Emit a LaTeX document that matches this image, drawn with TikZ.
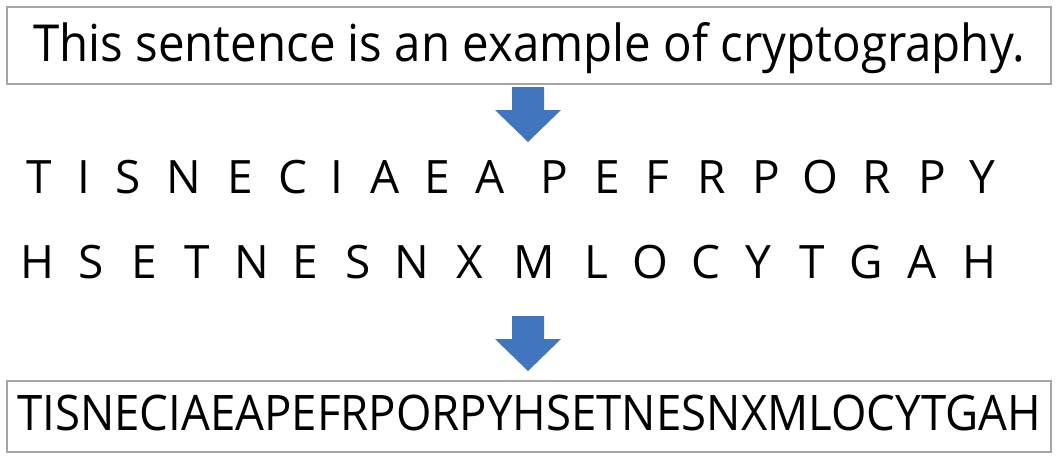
\documentclass[tikz,border=0pt]{standalone}
\usepackage{fontspec}
\setmainfont{Open Sans}
\newfontfamily\narrowsans{Open Sans}[FakeStretch=0.93]
\definecolor{arrowblue}{RGB}{65,118,190}
\definecolor{boxgray}{RGB}{166,166,166}
\begin{document}
\begin{tikzpicture}[
    x=1pt, y=-1pt,
    panel/.style={rectangle, draw=boxgray, line width=1.4pt, inner sep=0pt, minimum width=1044pt, text height=36pt, text depth=5pt, minimum height=77pt},
    letter/.style={anchor=base, inner sep=0pt, font=\fontsize{46}{50}\selectfont},
    blockarrow/.style={fill=arrowblue}
]
\useasboundingbox (0,0) rectangle (1059,459);

% Plain text
\node[panel, font=\narrowsans\fontsize{51}{56}\selectfont] (plain) at (529,45.5) {This sentence is an example of cryptography.};

% Down arrows
\foreach \y in {87,316}
  \fill[blockarrow] (512,\y) -- ++(32,0) -- ++(0,23) -- ++(17,0) -- (528,\y+55) -- (495,\y+23) -- ++(17,0) -- cycle;

% Rail fence rows
\foreach \ch/\x [count=\i] in {T/39, I/84, S/128, N/184, E/240, C/293, I/337, A/385, E/437, A/490,
    P/554, E/607, F/657, R/712, P/766, O/820, R/877, P/932, Y/982}
  \node[letter] (upper\i) at (\x,193) {\ch};

\foreach \ch/\x [count=\i] in {H/37, S/91, E/144, T/197, N/252, E/305, S/358, N/412, X/470,
    M/534, L/596, O/650, C/706, Y/758, T/812, G/866, A/922, H/979}
  \node[letter] (lower\i) at (\x,278) {\ch};

% Cipher text
\node[panel, text height=32pt, minimum height=71pt, font=\narrowsans\fontsize{49}{54}\selectfont] (cipher) at (529,416.5) {TISNECIAEAPEFRPORPYHSETNESNXMLOCYTGAH};

\end{tikzpicture}
\end{document}
